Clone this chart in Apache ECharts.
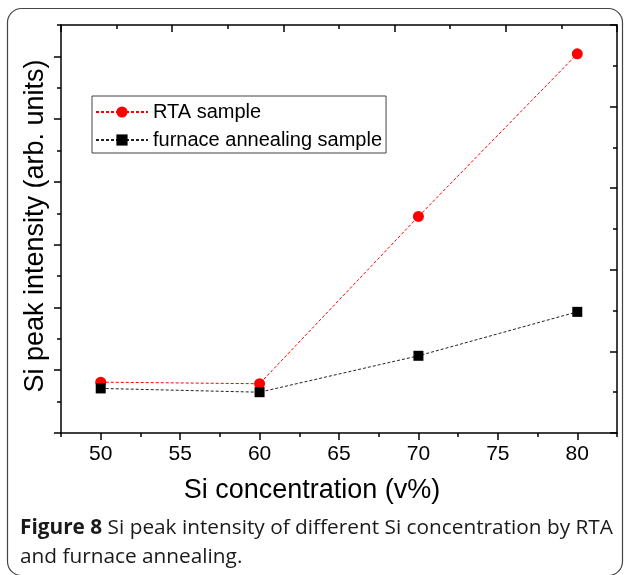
<!DOCTYPE html>
<html>
<head>
<meta charset="utf-8">
<script src="https://cdn.jsdelivr.net/npm/echarts@6/dist/echarts.min.js"></script>
<style>
    html, body { margin: 0; padding: 0; background: #fff; }
    #chart { width: 624px; height: 575px; }
</style>
</head>
<body>
<div id="chart"></div>
<script>
    const concentrations = [50, 60, 70, 80];
    const rtaIntensity = [0.81, 0.785, 3.45, 6.04];
    const furnaceIntensity = [0.71, 0.65, 1.23, 1.93];
    const seriesNames = ['RTA sample', 'furnace annealing sample'];

    const xLabelTicks = [50, 55, 60, 65, 70, 75, 80];
    const xMinorTicks = [47.5, 52.5, 57.5, 62.5, 67.5, 72.5, 77.5, 82.5];
    const yMajorTicks = [0, 1, 2, 3, 4, 5, 6];
    const yMinorTicks = [0.5, 1.5, 2.5, 3.5, 4.5, 5.5, 6.5];

    const xTitle = 'Si concentration (v%)';
    const yTitle = 'Si peak intensity (arb. units)';
    const captionBold = 'Figure 8';
    const captionText = ' Si peak intensity of different Si concentration by RTA\nand furnace annealing.';

    const axisFont = 'Liberation Sans';
    const captionFont = 'Open Sans';
    const black = '#000';

    const chart = echarts.init(document.getElementById('chart'));

    const lineStyle = { color: black, width: 1.5 };

    // axis with no line, only ticks at the given values
    function tickAxis(position, min, max, values, len) {
        return {
            type: 'value',
            position: position,
            min: min,
            max: max,
            axisLine: { show: false, onZero: false },
            axisTick: { show: true, customValues: values, length: len, lineStyle: lineStyle },
            axisLabel: { show: false },
            splitLine: { show: false }
        };
    }

    chart.setOption({
        animation: false,
        backgroundColor: '#fff',
        grid: { left: 61, right: 7, top: 25, bottom: 142 },

        legend: {
            orient: 'vertical',
            left: 92,
            top: 96,
            padding: [6, 4, 3, 3],
            borderColor: '#444',
            borderWidth: 1,
            itemWidth: 52,
            itemHeight: 14,
            itemGap: 8,
            textStyle: { fontSize: 20, fontFamily: axisFont, color: black },
            data: seriesNames
        },

        xAxis: [
            {
                type: 'value',
                position: 'bottom',
                min: 47.5,
                max: 82.5,
                axisLine: { show: true, onZero: false, lineStyle: lineStyle },
                axisTick: { show: true, customValues: xLabelTicks, length: 7, lineStyle: lineStyle },
                axisLabel: {
                    customValues: xLabelTicks,
                    color: black,
                    fontSize: 21,
                    fontFamily: axisFont,
                    margin: 11
                },
                splitLine: { show: false },
                name: xTitle,
                nameLocation: 'middle',
                nameGap: 44,
                nameTextStyle: {
                    fontSize: 27,
                    fontFamily: axisFont,
                    color: black,
                    padding: [0, 54, 0, 0]
                }
            },
            tickAxis('bottom', 47.5, 82.5, xMinorTicks, 4),
            {
                type: 'value',
                position: 'top',
                min: 0,
                max: 10,
                interval: 2,
                axisLine: { show: true, onZero: false, lineStyle: lineStyle },
                axisTick: { show: true, inside: true, length: 7, lineStyle: lineStyle },
                minorTick: { show: true, splitNumber: 2, length: 4, lineStyle: lineStyle },
                axisLabel: { show: false },
                splitLine: { show: false }
            }
        ],

        yAxis: [
            {
                type: 'value',
                position: 'left',
                min: 0,
                max: 6.5,
                axisLine: { show: true, onZero: false, lineStyle: lineStyle },
                axisTick: { show: true, customValues: yMajorTicks, length: 7, lineStyle: lineStyle },
                axisLabel: { show: false },
                splitLine: { show: false },
                name: yTitle,
                nameLocation: 'middle',
                nameGap: 12,
                nameTextStyle: {
                    fontSize: 27,
                    fontFamily: axisFont,
                    color: black,
                    padding: [0, 0, 0, 6]
                }
            },
            tickAxis('left', 0, 6.5, yMinorTicks, 4),
            {
                type: 'value',
                position: 'right',
                min: 0,
                max: 10,
                interval: 2,
                axisLine: { show: true, onZero: false, lineStyle: lineStyle },
                axisTick: { show: true, inside: true, length: 7, lineStyle: lineStyle },
                minorTick: { show: true, splitNumber: 2, length: 4, lineStyle: lineStyle },
                axisLabel: { show: false },
                splitLine: { show: false }
            }
        ],

        series: [
            {
                name: seriesNames[0],
                type: 'line',
                xAxisIndex: 0,
                yAxisIndex: 0,
                symbol: 'circle',
                symbolSize: 11,
                itemStyle: { color: '#ff0000' },
                lineStyle: { color: '#ff0000', width: 1, type: [3, 2] },
                data: concentrations.map((c, i) => [c, rtaIntensity[i]])
            },
            {
                name: seriesNames[1],
                type: 'line',
                xAxisIndex: 0,
                yAxisIndex: 0,
                symbol: 'rect',
                symbolSize: 10,
                itemStyle: { color: black },
                lineStyle: { color: '#222', width: 1, type: [3, 2] },
                data: concentrations.map((c, i) => [c, furnaceIntensity[i]])
            }
        ],

        graphic: [
            {
                type: 'rect',
                silent: true,
                shape: { x: 7.5, y: 8.5, width: 615, height: 567, r: 14 },
                style: { fill: 'none', stroke: '#444', lineWidth: 1.2 }
            },
            {
                type: 'text',
                left: 20,
                top: 514,
                style: {
                    text: '{b|' + captionBold + '}' + captionText,
                    fontFamily: captionFont,
                    fontSize: 20.8,
                    lineHeight: 29,
                    fill: '#1a1a1a',
                    rich: {
                        b: { fontFamily: captionFont, fontSize: 20.8, fontWeight: 'bold', fill: '#1a1a1a', lineHeight: 29 }
                    }
                }
            }
        ]
    });
</script>
</body>
</html>
